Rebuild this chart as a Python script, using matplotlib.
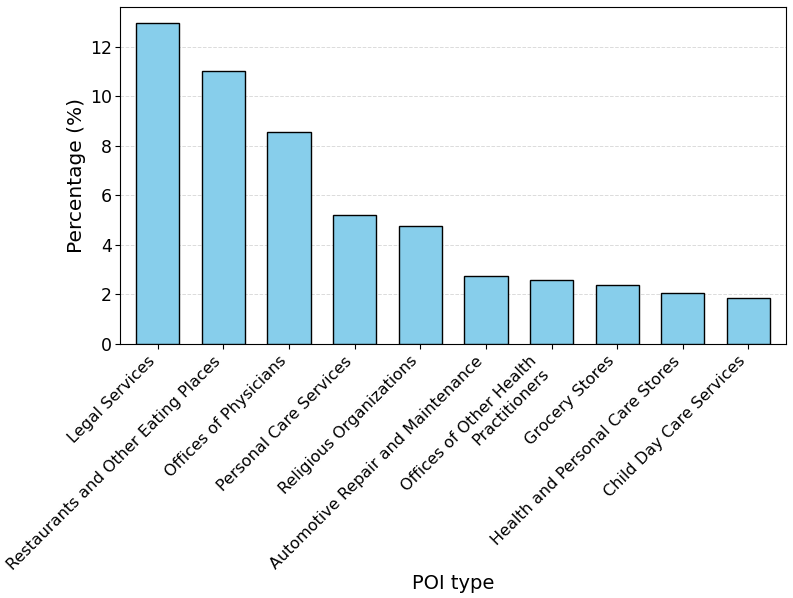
import matplotlib
matplotlib.use("Agg")
import matplotlib.pyplot as plt

categories = [
    "Legal Services",
    "Restaurants and Other Eating Places",
    "Offices of Physicians",
    "Personal Care Services",
    "Religious Organizations",
    "Automotive Repair and Maintenance",
    "Offices of Other Health\nPractitioners",
    "Grocery Stores",
    "Health and Personal Care Stores",
    "Child Day Care Services",
]
percentages = [12.94, 11.03, 8.55, 5.20, 4.77, 2.73, 2.56, 2.37, 2.05, 1.86]

fig, ax = plt.subplots(figsize=(7.93, 5.98), dpi=100)
fig.subplots_adjust(left=0.151, right=0.991, top=0.988, bottom=0.425)

x = list(range(len(categories)))
ax.bar(x, percentages, width=0.66, color="skyblue", edgecolor="black", linewidth=1.0, zorder=3)
ax.set_xlim(-0.58, 9.57)
ax.set_xticks(x)
ax.set_xticklabels(categories, rotation=45, ha="right", fontsize=11.5)
ax.tick_params(axis="y", labelsize=12.5, pad=2)
ax.set_ylabel("Percentage (%)", fontsize=14.5, labelpad=3)
ax.set_xlabel("POI type", fontsize=14, labelpad=1)
ax.yaxis.grid(True, linestyle="--", color="lightgray", alpha=0.8, linewidth=0.7, zorder=0)
ax.set_axisbelow(True)

fig.savefig("out.png", dpi=100)
